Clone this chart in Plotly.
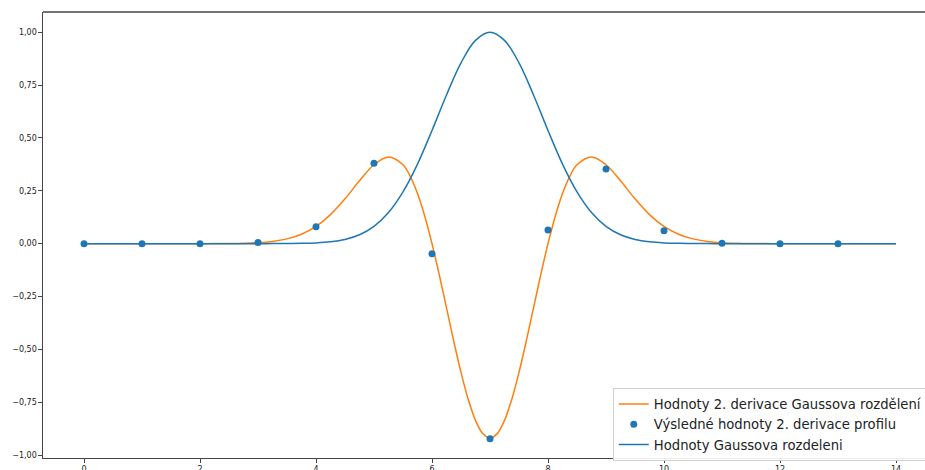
import plotly.graph_objects as go

# x positions read for the orange curve (finer sampling around the trough)
x_d2 = [0, 0.25, 0.5, 0.75, 1, 1.25, 1.5, 1.75, 2, 2.25, 2.5, 2.75, 3, 3.25, 3.5, 3.75,
        4, 4.25, 4.5, 4.75, 5, 5.25,
        5.5, 5.625, 5.75, 5.875, 6, 6.125, 6.25, 6.375, 6.5, 6.625, 6.75, 6.875, 7,
        7.125, 7.25, 7.375, 7.5, 7.625, 7.75, 7.875, 8, 8.125, 8.25, 8.375, 8.5,
        8.75, 9, 9.25, 9.5, 9.75, 10, 10.25, 10.5, 10.75, 11, 11.25, 11.5, 11.75,
        12, 12.25, 12.5, 12.75, 13, 13.25, 13.5, 13.75, 14]

# 2nd derivative of Gaussian (orange)
d2_gauss = [0, 0, 0, 0, 0, 0, 0, 0, 0.0001, 0.0003, 0.0007, 0.0019, 0.0046, 0.0106, 0.0226, 0.0448,
            0.0818, 0.1376, 0.2122, 0.2974, 0.3735, 0.4104,
            0.3733, 0.3184, 0.2369, 0.1298, 0.0, -0.1470, -0.3038, -0.4612, -0.6089, -0.7369, -0.8360, -0.8986, -0.92,
            -0.8986, -0.8360, -0.7369, -0.6089, -0.4612, -0.3038, -0.1470, 0.0, 0.1298, 0.2369, 0.3184, 0.3733,
            0.4104, 0.3735, 0.2974, 0.2122, 0.1376, 0.0818, 0.0448, 0.0226, 0.0106, 0.0046, 0.0019, 0.0007, 0.0003,
            0.0001, 0, 0, 0, 0, 0, 0, 0, 0]

# x positions for the blue curve
x_g = [0, 0.25, 0.5, 0.75, 1, 1.25, 1.5, 1.75, 2, 2.25, 2.5, 2.75, 3, 3.25, 3.5, 3.75,
       4, 4.25, 4.5, 4.75, 5, 5.25, 5.5, 5.75, 6, 6.25, 6.5, 6.75, 7, 7.25, 7.5, 7.75,
       8, 8.25, 8.5, 8.75, 9, 9.25, 9.5, 9.75, 10, 10.25, 10.5, 10.75, 11, 11.25, 11.5, 11.75,
       12, 12.25, 12.5, 12.75, 13, 13.25, 13.5, 13.75, 14]

# Gaussian (blue)
gauss = [0, 0, 0, 0, 0, 0, 0, 0,
         0, 0, 0, 0, 0.0000, 0.0002, 0.0005, 0.0014,
         0.0036, 0.0089, 0.0201, 0.0423, 0.0821, 0.1475, 0.2451, 0.3766,
         0.5353, 0.7035, 0.8553, 0.9617, 1.0, 0.9617, 0.8553, 0.7035,
         0.5353, 0.3766, 0.2451, 0.1475, 0.0821, 0.0423, 0.0201, 0.0089,
         0.0036, 0.0014, 0.0005, 0.0002, 0.0000, 0, 0, 0,
         0, 0, 0, 0, 0, 0, 0, 0, 0]

# profile points
x_pts = [0, 1, 2, 3, 4, 5, 6, 7, 8, 9, 10, 11, 12, 13]
profile = [0, 0, 0, 0.005, 0.080, 0.381, -0.048, -0.923, 0.065, 0.353, 0.061, 0.002, 0, 0]

y_ticks = [-1.0, -0.75, -0.5, -0.25, 0.0, 0.25, 0.5, 0.75, 1.0]
y_labels = ["\u22121,00", "\u22120,75", "\u22120,50", "\u22120,25", "0,00", "0,25", "0,50", "0,75", "1,00"]
x_ticks = [0, 2, 4, 6, 8, 10, 12, 14]
x_labels = ["0", "2", "4", "6", "8", "10", "12", "14"]

BLUE = "#1f77b4"
ORANGE = "#ff7f0e"

fig = go.Figure()
fig.add_trace(go.Scatter(x=x_d2, y=d2_gauss, mode="lines", line=dict(color=ORANGE, width=1.5, shape="spline"),
                         name="Hodnoty 2. derivace Gaussova rozdělení"))
fig.add_trace(go.Scatter(x=x_pts, y=profile, mode="markers", marker=dict(color=BLUE, size=7),
                         name="Výsledné hodnoty 2. derivace profilu"))
fig.add_trace(go.Scatter(x=x_g, y=gauss, mode="lines", line=dict(color=BLUE, width=1.5, shape="spline"),
                         name="Hodnoty Gaussova rozdeleni"))

fig.update_layout(
    width=925, height=470,
    margin=dict(l=43, r=0, t=12, b=12, autoexpand=False),
    plot_bgcolor="white", paper_bgcolor="white",
    font=dict(family="DejaVu Sans", color="#222"),
    showlegend=True,
    legend=dict(x=0.646, y=0.157, xanchor="left", yanchor="top",
                bgcolor="rgba(255,255,255,0.9)", bordercolor="#d0d0d0", borderwidth=1,
                font=dict(size=13.2, family="DejaVu Sans", color="#222"),
                tracegroupgap=0, itemwidth=30),
    xaxis=dict(range=[-0.707, 14.5], tickvals=x_ticks, ticktext=x_labels, automargin=False,
               showgrid=False, zeroline=False, showline=True, linecolor="#444", linewidth=1.3,
               ticks="outside", ticklen=3.5, tickwidth=1, tickcolor="#444",
               tickfont=dict(size=8, family="DejaVu Sans", color="#222")),
    yaxis=dict(range=[-1.014, 1.096], tickvals=y_ticks, ticktext=y_labels, automargin=False,
               showgrid=False, zeroline=False, showline=True, linecolor="#444", linewidth=1.3,
               ticks="outside", ticklen=3.5, tickwidth=1, tickcolor="#444",
               tickfont=dict(size=8, family="DejaVu Sans", color="#222")),
    shapes=[dict(type="line", xref="paper", yref="paper", x0=0, x1=1, y0=1, y1=1,
                 line=dict(color="#444", width=1.3))],
)

fig.write_html("out.html")
